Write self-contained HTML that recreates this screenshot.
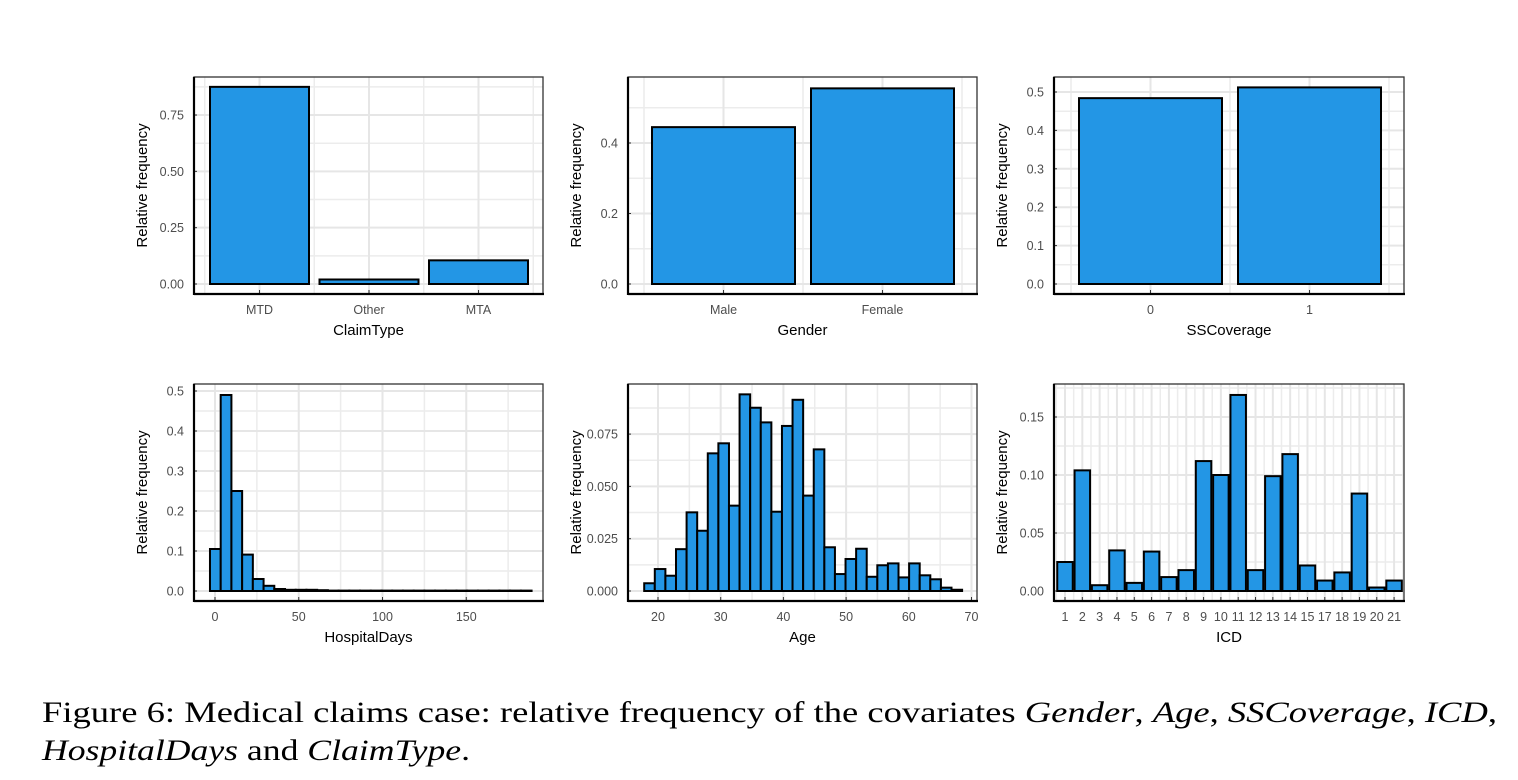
<!DOCTYPE html>
<html><head><meta charset="utf-8"><style>
body{margin:0;background:#fff;}
svg{display:block;font-family:"Liberation Sans",Arial,sans-serif;}
.tk{font-size:12.5px;fill:#4d4d4d;}
.lab{font-size:15px;fill:#000;}
.cap{font-family:"Liberation Serif",serif;font-size:30px;fill:#000;}
</style></head><body>
<svg id="fig" width="1518" height="780" viewBox="0 0 1518 780">
<text class="cap" x="42" y="722" textLength="1455" lengthAdjust="spacingAndGlyphs">Figure 6: Medical claims case: relative frequency of the covariates <tspan font-style="italic">Gender</tspan>, <tspan font-style="italic">Age</tspan>, <tspan font-style="italic">SSCoverage</tspan>, <tspan font-style="italic">ICD</tspan>,</text>
<text class="cap" x="42" y="760" textLength="428" lengthAdjust="spacingAndGlyphs"><tspan font-style="italic">HospitalDays</tspan> and <tspan font-style="italic">ClaimType</tspan>.</text>
</svg>
<script>
// ---- data ----
const claimCats = ["MTD","Other","MTA"];
const claimVals = [0.875,0.02,0.105];
const claimTicks = ["0.00","0.25","0.50","0.75"];
const genderCats = ["Male","Female"];
const genderVals = [0.445,0.555];
const genderTicks = ["0.0","0.2","0.4"];
const ssCats = ["0","1"];
const ssVals = [0.484,0.512];
const ssTicks = ["0.0","0.1","0.2","0.3","0.4","0.5"];
const hospStart = -3, hospWidth = 6.4;
const hospVals = [0.105,0.49,0.25,0.091,0.03,0.013,0.005,0.003,0.003,0.003,0.002,0.001,0.001,0.001,0.001,0.001,0.001,0.001,0.001,0.001,0.001,0.001,0.001,0.001,0.001,0.001,0.001,0.001,0.001,0.001];
const hospYTicks = ["0.0","0.1","0.2","0.3","0.4","0.5"];
const hospXTicks = [0,50,100,150];
const ageStart = 17.8, ageWidth = 1.69;
const ageVals = [0.0037,0.0105,0.0073,0.020,0.0376,0.0288,0.0658,0.0706,0.0408,0.094,0.0876,0.0806,0.0379,0.0789,0.0914,0.0456,0.0677,0.0209,0.0081,0.0153,0.0202,0.0068,0.0123,0.0132,0.0065,0.0132,0.0075,0.0056,0.0016,0.0006];
const ageYTicks = ["0.000","0.025","0.050","0.075"];
const ageXTicks = [20,30,40,50,60,70];
const icdCats = ["1","2","3","4","5","6","7","8","9","10","11","12","13","14","15","17","18","19","20","21"];
const icdVals = [0.025,0.104,0.005,0.035,0.007,0.034,0.012,0.018,0.112,0.1,0.169,0.018,0.099,0.118,0.022,0.009,0.016,0.084,0.003,0.009];
const icdTicks = ["0.00","0.05","0.10","0.15"];

const NS="http://www.w3.org/2000/svg";
const svg=document.getElementById('fig');
function mk(tag,attrs,parent){const e=document.createElementNS(NS,tag);for(const k in attrs)e.setAttribute(k,attrs[k]);(parent||svg).appendChild(e);return e;}

function panel(name,box,yTicks,yScale,xTickVals,xTickLabels,xScale,xMinor,xlabel){
  const g=mk('g',{});
  
  
  const yv=yTicks.map(Number);const st=yv[1]-yv[0];
  for(let v=yv[0]-st/2;yScale(v)>box.y0;v+=st/2){const y=yScale(v);if(y>box.y1||y<box.y0)continue;
    mk('line',{x1:box.x0,x2:box.x1,y1:y,y2:y,stroke:'#ececec','stroke-width':1.5},g);}
  xMinor.forEach(v=>{const x=xScale(v);if(x<box.x0||x>box.x1)return;mk('line',{x1:x,x2:x,y1:box.y0,y2:box.y1,stroke:'#ececec','stroke-width':1.5},g);});
  xTickVals.forEach(v=>{const x=xScale(v);if(x<box.x0||x>box.x1)return;mk('line',{x1:x,x2:x,y1:box.y0,y2:box.y1,stroke:'#e6e6e6','stroke-width':2},g);});
  yTicks.forEach(t=>{const y=yScale(Number(t));mk('line',{x1:box.x0,x2:box.x1,y1:y,y2:y,stroke:'#e6e6e6','stroke-width':2},g);
    const tx=mk('text',{x:box.x0-10,y:y+4.5,'text-anchor':'end',class:'tk'},g);tx.textContent=t;
    
    
    mk('line',{x1:box.x0,x2:box.x0+3,y1:y,y2:y,stroke:'#333'},g);});
  xTickVals.forEach((v,i)=>{const x=xScale(v);
    mk('line',{x1:x,x2:x,y1:box.y1,y2:box.y1-4,stroke:'#333'},g);
    const tx=mk('text',{x:x,y:box.y1+20,'text-anchor':'middle',class:'tk'},g);tx.textContent=xTickLabels[i];
    
    });
  const xl=mk('text',{x:(box.x0+box.x1)/2,y:box.y1+41,'text-anchor':'middle',class:'lab'},g);xl.textContent=xlabel;
  
  
  const cy=(box.y0+box.y1)/2;
  const yl=mk('text',{x:0,y:0,'text-anchor':'middle',class:'lab',transform:`translate(${box.x0-47},${cy}) rotate(-90)`},g);yl.textContent='Relative frequency';
  
  
  return g;
}
function frame(g,box){
  mk('rect',{x:box.x0,y:box.y0,width:box.x1-box.x0,height:box.y1-box.y0,fill:'none',stroke:'#333','stroke-width':1.3},g);
  mk('line',{x1:box.x0,x2:box.x1+1,y1:box.y1,y2:box.y1,stroke:'#000','stroke-width':2.2},g);
  mk('line',{x1:box.x0,x2:box.x0,y1:box.y0,y2:box.y1+1,stroke:'#000','stroke-width':2.2},g);
}
function bar(g,x0,x1,y0,y1,sw){
  const r=mk('rect',{x:x0,y:Math.min(y0,y1),width:x1-x0,height:Math.abs(y1-y0),fill:'#2396e5',stroke:'#000','stroke-width':sw},g);
  
  
}
function catPanel(name,box,cats,vals,ticks,y0px,perUnit,first,step,bw,xlabel){
  const ys=v=>y0px-v*perUnit;const xs=i=>first+i*step;
  const idx=cats.map((c,i)=>i);
  const minor=idx.map(i=>i+0.5).concat([-0.5]);
  const g=panel(name,box,ticks,ys,idx,cats,xs,minor,xlabel);
  vals.forEach((v,i)=>bar(g,xs(i)-bw/2,xs(i)+bw/2,ys(0),ys(v),2));
  frame(g,box);
}
const rowTop={y0:77,y1:294},rowBot={y0:384,y1:601};
catPanel('claimtype',{x0:194,x1:543,...rowTop},claimCats,claimVals,claimTicks,284,225.3,259.5,109.5,99,'ClaimType');
catPanel('gender',{x0:628,x1:977,...rowTop},genderCats,genderVals,genderTicks,284,352.5,723.5,159,143,'Gender');
catPanel('sscoverage',{x0:1054,x1:1404,...rowTop},ssCats,ssVals,ssTicks,284,384,1150.5,159,143,'SSCoverage');
catPanel('icd',{x0:1054,x1:1404,...rowBot},icdCats,icdVals,icdTicks,591,1160,1065,17.32,15.5,'ICD');
function histPanel(name,box,vals,start,w,yTicks,y0px,perUnit,xTicks,x0val,x0px,pxPer,minorStep,xlabel){
  const ys=v=>y0px-v*perUnit;const xs=v=>x0px+(v-x0val)*pxPer;
  const minor=[];for(let v=xTicks[0]-minorStep;v<=xTicks[xTicks.length-1]+minorStep*2;v+=minorStep)minor.push(v);
  const g=panel(name,box,yTicks,ys,xTicks,xTicks.map(String),xs,minor,xlabel);
  vals.forEach((v,i)=>bar(g,xs(start+i*w),xs(start+(i+1)*w),ys(0),ys(v),2));
  frame(g,box);
}
histPanel('hospitaldays',{x0:194,x1:543,...rowBot},hospVals,hospStart,hospWidth,hospYTicks,591,400,hospXTicks,0,215,1.675,25,'HospitalDays');
histPanel('age',{x0:628,x1:977,...rowBot},ageVals,ageStart,ageWidth,ageYTicks,591,2092,ageXTicks,20,658,6.27,5,'Age');
</script>
</body></html>
